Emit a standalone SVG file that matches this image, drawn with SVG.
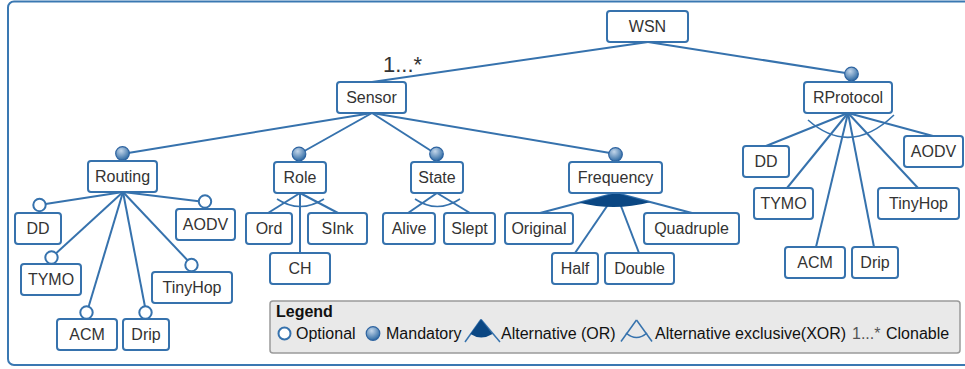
<svg xmlns="http://www.w3.org/2000/svg" width="965" height="369" viewBox="0 0 965 369">
<defs>
<radialGradient id="mand" cx="0.4" cy="0.3" r="0.7">
<stop offset="0" stop-color="#c3d6ea"/>
<stop offset="1" stop-color="#2f6aa3"/>
</radialGradient>
<style>
.frame{fill:#fff;stroke:#3a78b2;stroke-width:2}
.n rect{fill:#fff;stroke:#3672ad;stroke-width:2}
.n text{font-family:"Liberation Sans",Arial,sans-serif;font-size:16px;fill:#333;text-anchor:middle}
.c line,.c path.l{stroke:#3672ad;stroke-width:2;fill:none}
.arc{stroke:#3672ad;stroke-width:1.6;fill:none}
.orf{fill:#0b4783;stroke:none}
.opt{fill:#fff;stroke:#3672ad;stroke-width:2}
.man{fill:url(#mand);stroke:#2d63a0;stroke-width:1.2}
.lg{font-family:"Liberation Sans",Arial,sans-serif;font-size:16px;fill:#111}
</style>
</defs>
<rect class="frame" x="8" y="1.5" width="970" height="363.5" rx="6"/>

<g id="connectors" class="c">
<line x1="648" y1="42" x2="372" y2="82"/>
<line x1="648" y1="42" x2="852" y2="74"/>
<line x1="372" y1="113" x2="122" y2="154"/>
<line x1="372" y1="113" x2="299" y2="154"/>
<line x1="372" y1="113" x2="436" y2="154"/>
<line x1="372" y1="113" x2="616" y2="154"/>
<!-- Routing -->
<line x1="123" y1="192" x2="39" y2="205"/>
<line x1="123" y1="192" x2="52" y2="257"/>
<line x1="123" y1="192" x2="87" y2="312"/>
<line x1="123" y1="192" x2="146" y2="312"/>
<line x1="123" y1="192" x2="192" y2="265"/>
<line x1="123" y1="192" x2="205" y2="202"/>
<!-- Role -->
<line x1="300" y1="193" x2="268" y2="213"/>
<line x1="300" y1="193" x2="338" y2="213"/>
<line x1="300" y1="193" x2="300" y2="253"/>
<path class="arc" d="M277 199 Q300 214 324 199"/>
<!-- State -->
<line x1="437" y1="193" x2="408" y2="213"/>
<line x1="437" y1="193" x2="470" y2="213"/>
<path class="arc" d="M415 199 Q437 214 460 199"/>
<!-- Frequency -->
<line x1="616" y1="193" x2="540" y2="213"/>
<line x1="616" y1="193" x2="575" y2="253"/>
<line x1="616" y1="193" x2="639" y2="253"/>
<line x1="616" y1="193" x2="692" y2="213"/>
<path class="orf" d="M616 193 L579 202.8 Q615 211.5 650 202.2 Z"/>
<!-- RProtocol -->
<line x1="848" y1="113" x2="766" y2="146"/>
<line x1="848" y1="113" x2="787" y2="188"/>
<line x1="848" y1="113" x2="816" y2="247"/>
<line x1="848" y1="113" x2="874" y2="247"/>
<line x1="848" y1="113" x2="918" y2="188"/>
<line x1="848" y1="113" x2="933" y2="136"/>
<path class="arc" d="M808 120 Q850 157 894 115"/>
</g>

<g id="markers">
<circle class="man" cx="122.5" cy="153.5" r="6.8"/>
<circle class="man" cx="299" cy="154" r="6.8"/>
<circle class="man" cx="436.5" cy="154" r="6.8"/>
<circle class="man" cx="615.5" cy="154.5" r="6.8"/>
<circle class="man" cx="851.5" cy="74" r="6.8"/>
<circle class="opt" cx="39.5" cy="205" r="6.2"/>
<circle class="opt" cx="51.5" cy="257.5" r="6.2"/>
<circle class="opt" cx="86.5" cy="312.5" r="6.2"/>
<circle class="opt" cx="145.5" cy="312.5" r="6.2"/>
<circle class="opt" cx="191.5" cy="265" r="6.2"/>
<circle class="opt" cx="205" cy="201.5" r="6.2"/>
</g>

<text x="383" y="72" style="font-family:'Liberation Sans',Arial,sans-serif;font-size:22px;fill:#333">1...*</text>

<g id="WSN" class="n"><rect x="607" y="11" width="81" height="31" rx="3"/><text x="647.5" y="32">WSN</text></g>
<g id="Sensor" class="n"><rect x="337" y="82" width="69" height="31" rx="3"/><text x="371.5" y="103">Sensor</text></g>
<g id="RProtocol" class="n"><rect x="804" y="82" width="88" height="31" rx="3"/><text x="848" y="103">RProtocol</text></g>
<g id="Routing" class="n"><rect x="88" y="161" width="69" height="31" rx="3"/><text x="122.5" y="182">Routing</text></g>
<g id="Role" class="n"><rect x="274" y="162" width="52" height="31" rx="3"/><text x="300" y="183">Role</text></g>
<g id="State" class="n"><rect x="411" y="162" width="52" height="31" rx="3"/><text x="437" y="183">State</text></g>
<g id="Frequency" class="n"><rect x="569" y="162" width="93" height="31" rx="3"/><text x="615.5" y="183">Frequency</text></g>

<g id="Routing-DD" class="n"><rect x="15" y="213" width="46" height="31" rx="3"/><text x="38" y="234">DD</text></g>
<g id="Routing-TYMO" class="n"><rect x="21" y="264" width="60" height="31" rx="3"/><text x="51" y="285">TYMO</text></g>
<g id="Routing-ACM" class="n"><rect x="57" y="319" width="60" height="31" rx="3"/><text x="87" y="340">ACM</text></g>
<g id="Routing-Drip" class="n"><rect x="123" y="319" width="46" height="31" rx="3"/><text x="146" y="340">Drip</text></g>
<g id="Routing-TinyHop" class="n"><rect x="152" y="272" width="80" height="31" rx="3"/><text x="192" y="293">TinyHop</text></g>
<g id="Routing-AODV" class="n"><rect x="176" y="209" width="59" height="31" rx="3"/><text x="205.5" y="230">AODV</text></g>

<g id="Ord" class="n"><rect x="246" y="213" width="46" height="31" rx="3"/><text x="269" y="234">Ord</text></g>
<g id="SInk" class="n"><rect x="308" y="213" width="59" height="31" rx="3"/><text x="337.5" y="234">SInk</text></g>
<g id="CH" class="n"><rect x="270" y="253" width="60" height="31" rx="3"/><text x="300" y="274">CH</text></g>
<g id="Alive" class="n"><rect x="383" y="213" width="52" height="31" rx="3"/><text x="409" y="234">Alive</text></g>
<g id="Slept" class="n"><rect x="444" y="213" width="51" height="31" rx="3"/><text x="469.5" y="234">Slept</text></g>

<g id="Original" class="n"><rect x="505" y="213" width="68" height="31" rx="3"/><text x="539" y="234">Original</text></g>
<g id="Quadruple" class="n"><rect x="644" y="213" width="95" height="31" rx="3"/><text x="691.5" y="234">Quadruple</text></g>
<g id="Half" class="n"><rect x="552" y="253" width="46" height="31" rx="3"/><text x="575" y="274">Half</text></g>
<g id="Double" class="n"><rect x="605" y="253" width="69" height="31" rx="3"/><text x="639.5" y="274">Double</text></g>

<g id="RP-DD" class="n"><rect x="743" y="146" width="46" height="31" rx="3"/><text x="766" y="167">DD</text></g>
<g id="RP-AODV" class="n"><rect x="904" y="136" width="59" height="31" rx="3"/><text x="933.5" y="157">AODV</text></g>
<g id="RP-TYMO" class="n"><rect x="754" y="188" width="59" height="31" rx="3"/><text x="783.5" y="209">TYMO</text></g>
<g id="RP-TinyHop" class="n"><rect x="878" y="188" width="81" height="31" rx="3"/><text x="918.5" y="209">TinyHop</text></g>
<g id="RP-ACM" class="n"><rect x="785" y="247" width="60" height="31" rx="3"/><text x="815" y="268">ACM</text></g>
<g id="RP-Drip" class="n"><rect x="852" y="247" width="46" height="31" rx="3"/><text x="875" y="268">Drip</text></g>

<g id="legend">
<rect x="270" y="301" width="690" height="52" rx="3" fill="#e9e9e9" stroke="#9a9a9a" stroke-width="1.5"/>
<text class="lg" x="276" y="317" font-weight="bold">Legend</text>
<circle class="opt" cx="284.5" cy="333.5" r="6"/>
<text class="lg" x="296" y="339">Optional</text>
<circle class="man" cx="373" cy="333.5" r="6.8"/>
<text class="lg" x="386" y="339">Mandatory</text>
<line x1="481" y1="319.5" x2="465" y2="342" stroke="#3672ad" stroke-width="1.5"/>
<line x1="481" y1="319.5" x2="500" y2="342" stroke="#3672ad" stroke-width="1.5"/>
<path class="orf" d="M481 319.5 L470.5 334 Q481 341 492.5 334 Z"/>
<text class="lg" x="501" y="339">Alternative (OR)</text>
<line x1="636.5" y1="320" x2="621" y2="341.5" stroke="#3672ad" stroke-width="1.5"/>
<line x1="636.5" y1="320" x2="652" y2="341.5" stroke="#3672ad" stroke-width="1.5"/>
<path class="arc" d="M626 333 Q636.5 342 647 333" stroke-width="1.5"/>
<text class="lg" x="655" y="339">Alternative exclusive(XOR)</text>
<text class="lg" x="852" y="339" fill="#555" style="fill:#555">1...*</text>
<text class="lg" x="886" y="339">Clonable</text>
</g>
</svg>
